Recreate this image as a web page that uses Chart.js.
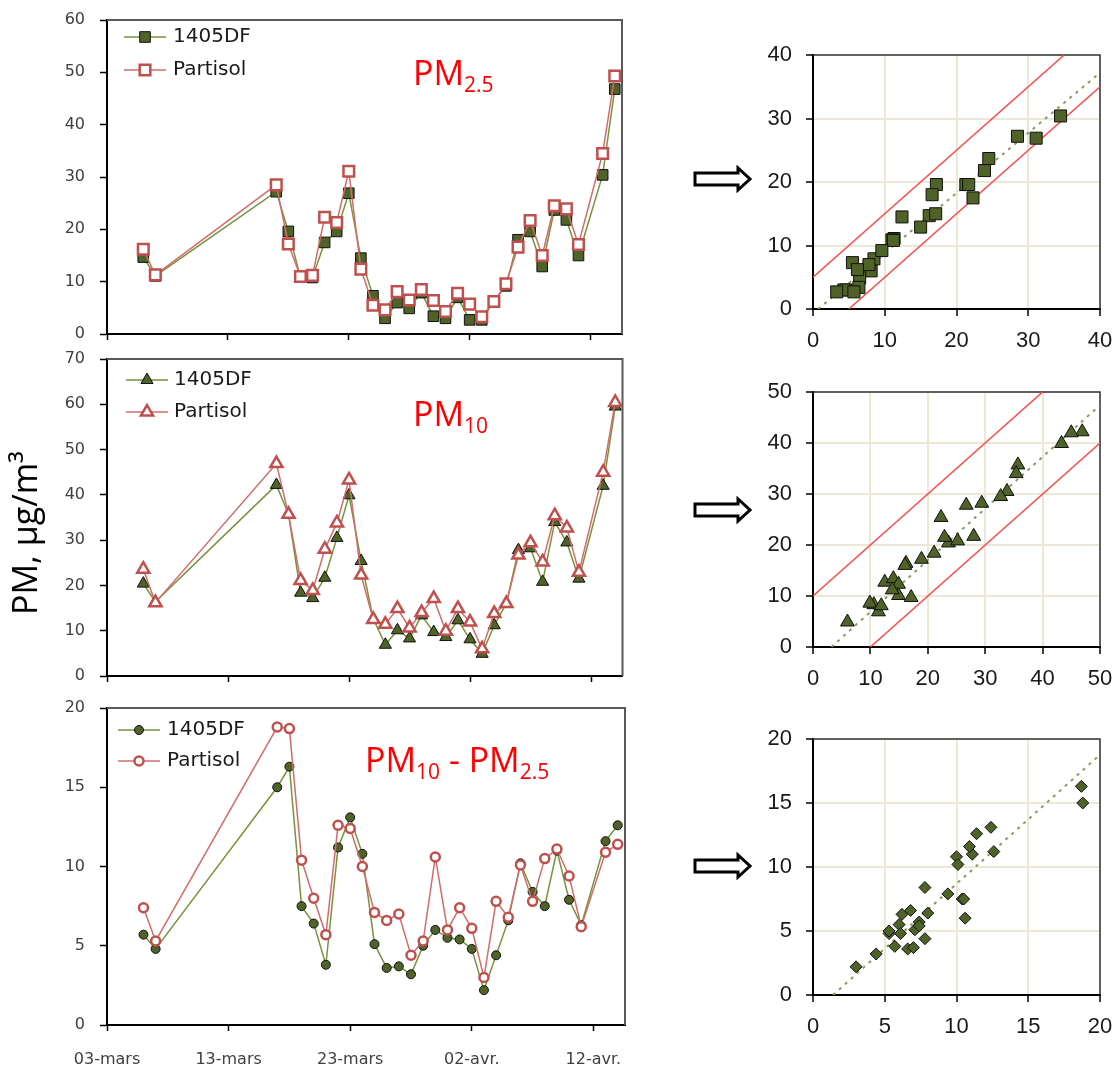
<!DOCTYPE html>
<html><head><meta charset="utf-8">
<script src="https://cdn.jsdelivr.net/npm/chart.js@4.4.1/dist/chart.umd.min.js"></script>
<style>
html,body{margin:0;padding:0;background:#fff;}
#wrap{position:relative;width:1115px;height:1066px;overflow:hidden;background:#fff;}
canvas{position:absolute;}
.ttl{position:absolute;color:#ff0000;font-family:'Open Sans',sans-serif;font-size:34px;line-height:1;white-space:nowrap;}
.ttl span{font-size:21px;position:relative;top:7px;}
#ylab{position:absolute;left:-126px;top:516px;width:300px;text-align:center;font-family:'Open Sans',sans-serif;font-size:34px;line-height:34px;color:#000;transform:rotate(-90deg);white-space:nowrap;}
.arrow{position:absolute;}
</style></head><body><div id="wrap">
<canvas id="c1" width="632" height="345" style="left:0;top:0"></canvas>
<canvas id="c2" width="632" height="342" style="left:0;top:345px"></canvas>
<canvas id="c3" width="632" height="379" style="left:0;top:687px"></canvas>
<canvas id="s1" width="375" height="320" style="left:740px;top:40px"></canvas>
<canvas id="s2" width="375" height="320" style="left:740px;top:375px"></canvas>
<canvas id="s3" width="375" height="346" style="left:740px;top:720px"></canvas>
<div class="ttl" style="left:413px;top:55px">PM<span>2.5</span></div>
<div class="ttl" style="left:413px;top:396px">PM<span>10</span></div>
<div class="ttl" style="left:365px;top:742px">PM<span>10</span> - PM<span>2.5</span></div>
<div id="ylab">PM, µg/m³</div>
<svg class="arrow" style="left:692px;top:165px" width="62" height="28"><polygon points="3,8 46,8 46,3 58,14 46,25 46,20 3,20" fill="#fff" stroke="#000" stroke-width="3" stroke-linejoin="miter"/></svg>
<svg class="arrow" style="left:692px;top:496px" width="62" height="28"><polygon points="3,8 46,8 46,3 58,14 46,25 46,20 3,20" fill="#fff" stroke="#000" stroke-width="3" stroke-linejoin="miter"/></svg>
<svg class="arrow" style="left:692px;top:852px" width="62" height="28"><polygon points="3,8 46,8 46,3 58,14 46,25 46,20 3,20" fill="#fff" stroke="#000" stroke-width="3" stroke-linejoin="miter"/></svg>
</div>
<script>
// ---------------- data ----------------
const dates = ['2009-03-06','2009-03-07','2009-03-17','2009-03-18','2009-03-19','2009-03-20','2009-03-21','2009-03-22',
  '2009-03-23','2009-03-24','2009-03-25','2009-03-26','2009-03-27','2009-03-28','2009-03-29','2009-03-30','2009-03-31',
  '2009-04-01','2009-04-02','2009-04-03','2009-04-04','2009-04-05','2009-04-06','2009-04-07','2009-04-08','2009-04-09',
  '2009-04-10','2009-04-11','2009-04-13','2009-04-14'];
const pm25_1405DF   = [14.7,11.1,27.2,19.6,10.9,10.8,17.5,19.6,26.9,14.5,7.3,3.0,6.0,4.9,7.9,3.4,3.0,7.0,2.7,2.7,6.2,9.2,18.0,19.6,12.9,23.7,21.8,15.0,30.4,46.8];
const pm25_Partisol = [16.2,11.3,28.5,17.2,11.0,11.2,22.3,21.3,31.1,12.4,5.5,4.6,8.1,6.5,8.5,6.4,4.3,7.8,5.7,3.3,6.2,9.6,16.6,21.7,15.0,24.5,23.9,17.1,34.5,49.3];
const pm10_1405DF   = [20.4,16.4,42.2,35.7,18.4,17.2,21.7,30.5,39.9,25.4,12.7,6.9,10.1,8.3,13.4,9.7,8.6,12.3,8.1,4.9,11.2,16.0,27.8,28.2,20.8,34.0,29.5,21.5,42.0,59.5];
const pm10_Partisol = [23.6,16.2,46.9,35.7,21.1,18.9,28.0,33.8,43.3,22.3,12.5,11.4,14.9,10.6,14.0,17.1,9.9,14.9,11.9,6.0,13.8,16.0,26.7,29.4,25.2,35.4,32.7,22.9,45.0,60.4];
const diff_1405DF   = [5.7,4.8,15.0,16.3,7.5,6.4,3.8,11.2,13.1,10.8,5.1,3.6,3.7,3.2,5.0,6.0,5.5,5.4,4.8,2.2,4.4,6.6,10.2,8.4,7.5,11.0,7.9,6.3,11.6,12.6];
const diff_Partisol = [7.4,5.3,18.8,18.7,10.4,8.0,5.7,12.6,12.4,10.0,7.1,6.6,7.0,4.4,5.3,10.6,6.0,7.4,6.1,3.0,7.8,6.8,10.1,7.8,10.5,11.1,9.4,6.2,10.9,11.4];
const axisStartDate = '2009-03-03';
const axisSpanDays = 42.6;
const monthAbbr = ['janv.','févr.','mars','avr.','mai','juin','juil.','août','sept.','oct.','nov.','déc.'];
// regression fits [slope, intercept] and tolerance bands (scatter plots)
const fitPM25 = [0.947, -0.68];
const fitPM10 = [1.013, -3.24];
const fitDiff = [1.009, -1.41];
const bandPM25 = 5;
const bandPM10 = 10;

// ---------------- helpers ----------------
const dayMs = 86400000;
const toUTC = s => { const p = s.split('-').map(Number); return Date.UTC(p[0], p[1]-1, p[2]); };
const BASE = toUTC(axisStartDate);
const xDays = dates.map(s => (toUTC(s) - BASE) / dayMs);
const series = vals => vals.map((v,i) => ({x: xDays[i], y: v}));
const pairs = (xs, ys) => xs.map((v,i) => ({x: v, y: ys[i]}));
const fmtDate = v => { const d = new Date(BASE + Math.round(v) * dayMs); const dd = String(d.getUTCDate()).padStart(2,'0'); return dd + '-' + monthAbbr[d.getUTCMonth()]; };
function segment(a, b, max) {
  const x0 = Math.max(0, (0 - b) / a), x1 = Math.min(max, (max - b) / a);
  return [{x: x0, y: a*x0 + b}, {x: x1, y: a*x1 + b}];
}
const noPad = s => { s.paddingTop = 0; s.paddingBottom = 0; s.paddingLeft = 0; s.paddingRight = 0; };

const lineLegend = {
  id: 'lineLegend',
  afterDraw(chart, args, o) {
    if (!o || !o.show) return;
    const ctx = chart.ctx;
    chart.data.datasets.forEach((ds, i) => {
      const y = o.y + i * o.gap;
      ctx.save();
      ctx.strokeStyle = ds.borderColor; ctx.lineWidth = ds.borderWidth;
      ctx.beginPath(); ctx.moveTo(o.x, y); ctx.lineTo(o.x + o.len, y); ctx.stroke();
      ctx.fillStyle = ds.pointBackgroundColor; ctx.strokeStyle = ds.pointBorderColor; ctx.lineWidth = ds.pointBorderWidth;
      Chart.helpers.drawPoint(ctx, {pointStyle: ds.pointStyle, radius: ds.pointRadius, rotation: 0, borderWidth: ds.pointBorderWidth}, o.x + o.len/2, y);
      ctx.fillStyle = '#1a1a1a'; ctx.font = '20px "DejaVu Sans"'; ctx.textBaseline = 'middle'; ctx.textAlign = 'left';
      ctx.fillText(ds.label, o.textX, y);
      ctx.restore();
    });
  }
};
const frame = {
  id: 'frame',
  beforeDatasetsDraw(chart, args, o) {
    const {left, right, top, bottom} = chart.chartArea, ctx = chart.ctx;
    ctx.save(); ctx.strokeStyle = o.color; ctx.lineWidth = o.width;
    ctx.beginPath(); ctx.moveTo(left, top); ctx.lineTo(right, top); ctx.lineTo(right, bottom); ctx.stroke();
    ctx.restore();
  }
};

Chart.defaults.font.family = '"DejaVu Sans"';

function tsChart(id, c) {
  return new Chart(document.getElementById(id), {
    type: 'line',
    data: { datasets: [
      { label: '1405DF', data: series(c.df), borderColor: '#77933c', borderWidth: 1.5, tension: 0,
        pointStyle: c.style, pointRadius: c.r, pointBackgroundColor: '#4f6228', pointBorderColor: '#111', pointBorderWidth: 1, order: 1 },
      { label: 'Partisol', data: series(c.part), borderColor: '#d46b6b', borderWidth: 1.5, tension: 0,
        pointStyle: c.style, pointRadius: c.r, pointBackgroundColor: '#ffffff', pointBorderColor: '#c0504d', pointBorderWidth: 2.5, order: 0 }
    ]},
    options: {
      responsive: false, animation: false, events: [],
      layout: { padding: { top: c.padTop, right: 4, left: 0, bottom: 0 } },
      plugins: { legend: { display: false }, tooltip: { enabled: false },
        lineLegend: Object.assign({show: true}, c.legend), frame: { color: '#595959', width: 2 } },
      scales: {
        x: { type: 'linear', min: 0, max: axisSpanDays,
          ticks: { stepSize: 10, display: c.showX, callback: fmtDate, color: '#404040', font: { size: 16 }, padding: 19,
                   autoSkip: false, maxRotation: 0, includeBounds: false },
          grid: { drawOnChartArea: false, tickLength: 6, tickColor: '#000', tickWidth: 1.5 },
          border: { color: '#000', width: 2 },
          afterFit: s => { s.height = c.xh; noPad(s); } },
        y: { min: 0, max: c.max,
          ticks: { stepSize: c.step, color: '#404040', font: { size: 16 }, padding: 15 },
          grid: { drawOnChartArea: false, tickLength: 7, tickColor: '#000', tickWidth: 1.5 },
          border: { color: '#000', width: 2 },
          afterFit: s => { s.width = 107; noPad(s); } }
      }
    },
    plugins: [lineLegend, frame]
  });
}

function scChart(id, c) {
  const ds = [{ label: 'pts', data: pairs(c.xs, c.ys), showLine: false, pointStyle: c.style, pointRadius: c.r,
      pointBackgroundColor: '#4f6228', pointBorderColor: '#111', pointBorderWidth: 1, order: 0 }];
  ds.push({ label: 'fit', data: segment(c.fit[0], c.fit[1], c.max), showLine: true, borderColor: '#8a9a62', borderWidth: 2,
      borderDash: [3, 5], pointRadius: 0, order: 1 });
  if (c.band) {
    ds.push({ label: 'up', data: segment(1, c.band, c.max), showLine: true, borderColor: '#ff4a4a', borderWidth: 1.5, pointRadius: 0, order: 1 });
    ds.push({ label: 'lo', data: segment(1, -c.band, c.max), showLine: true, borderColor: '#ff4a4a', borderWidth: 1.5, pointRadius: 0, order: 1 });
  }
  const tickFont = { family: '"Liberation Sans", Arial', size: 22 };
  return new Chart(document.getElementById(id), {
    type: 'scatter',
    data: { datasets: ds },
    options: {
      responsive: false, animation: false, events: [],
      layout: { padding: { top: c.padTop, right: 15, left: 0, bottom: 0 } },
      plugins: { legend: { display: false }, tooltip: { enabled: false }, frame: { color: '#333', width: 1.5 } },
      scales: {
        x: { type: 'linear', min: 0, max: c.max,
          ticks: { stepSize: c.step, color: '#1a1a1a', font: tickFont, padding: 12, autoSkip: false, maxRotation: 0 },
          grid: { color: '#ece8d8', lineWidth: 2, tickColor: '#000', tickLength: 7, tickWidth: 1.5 },
          border: { color: '#000', width: 2 },
          afterFit: s => { s.height = c.xh; noPad(s); } },
        y: { type: 'linear', min: 0, max: c.max,
          ticks: { stepSize: c.step, color: '#1a1a1a', font: tickFont, padding: 14 },
          grid: { color: '#ece8d8', lineWidth: 2, tickColor: '#000', tickLength: 7, tickWidth: 1.5 },
          border: { color: '#000', width: 2 },
          afterFit: s => { s.width = 73; noPad(s); } }
      }
    },
    plugins: [frame]
  });
}

tsChart('c1', { df: pm25_1405DF, part: pm25_Partisol, style: 'rect', r: 7.5, max: 60, step: 10, padTop: 20, xh: 11, showX: false,
  legend: { x: 124, y: 37, gap: 33, len: 42, textX: 173 } });
tsChart('c2', { df: pm10_1405DF, part: pm10_Partisol, style: 'triangle', r: 7, max: 70, step: 10, padTop: 14, xh: 11, showX: false,
  legend: { x: 126, y: 35, gap: 32, len: 42, textX: 174 } });
tsChart('c3', { df: diff_1405DF, part: diff_Partisol, style: 'circle', r: 4.5, max: 20, step: 5, padTop: 21, xh: 41, showX: true,
  legend: { x: 118, y: 43, gap: 31, len: 42, textX: 167 } });

scChart('s1', { xs: pm25_Partisol, ys: pm25_1405DF, style: 'rect', r: 8.5, max: 40, step: 10, padTop: 15, xh: 51, fit: fitPM25, band: bandPM25 });
scChart('s2', { xs: pm10_Partisol, ys: pm10_1405DF, style: 'triangle', r: 8, max: 50, step: 10, padTop: 17, xh: 48, fit: fitPM10, band: bandPM10 });
scChart('s3', { xs: diff_Partisol, ys: diff_1405DF, style: 'rectRot', r: 6, max: 20, step: 5, padTop: 19, xh: 71, fit: fitDiff, band: 0 });
</script>
</body></html>
